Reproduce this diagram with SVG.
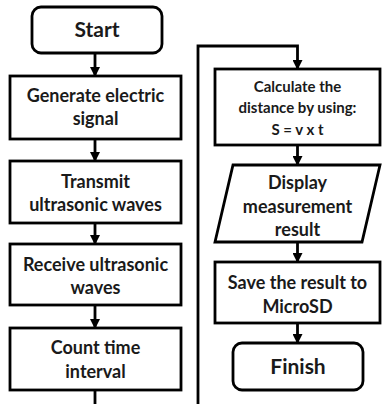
<svg xmlns="http://www.w3.org/2000/svg" width="382" height="404" viewBox="0 0 382 404">
<style>
.b{fill:#fff;stroke:#000;stroke-width:2.8}
.c{fill:none;stroke:#000;stroke-width:2.8}
text{font-family:Lato,"Open Sans","Liberation Sans",sans-serif;font-weight:700;fill:#1a1a1a;text-anchor:middle}
.m{font-size:18px}
.s{font-size:15px}
.l{font-size:21px}
</style>
<defs>
<marker id="a" markerUnits="userSpaceOnUse" markerWidth="10" markerHeight="10" refX="9" refY="5" orient="auto" viewBox="0 0 10 10">
<path d="M0,0 L10,5 L0,10 Z" fill="#000"/>
</marker>
</defs>
<g id="connectors">
<path class="c" d="M95 53 V76" marker-end="url(#a)"/>
<path class="c" d="M95 139 V161" marker-end="url(#a)"/>
<path class="c" d="M95 223 V244" marker-end="url(#a)"/>
<path class="c" d="M95 305 V328" marker-end="url(#a)"/>
<path class="c" d="M95 390 V404"/>
<path class="c" d="M198 404 V46 H297.5 V69" marker-end="url(#a)"/>
<path class="c" d="M297.5 145 V165" marker-end="url(#a)"/>
<path class="c" d="M297.5 242 V262" marker-end="url(#a)"/>
<path class="c" d="M297.5 323 V343" marker-end="url(#a)"/>
</g>
<g id="start"><rect class="b" x="32" y="7" width="130" height="46" rx="9"/><text class="l" x="97" y="37">Start</text></g>
<g id="generate"><rect class="b" x="10" y="76" width="171" height="63"/><text class="m" x="95.5" y="102">Generate electric</text><text class="m" x="95.5" y="125">signal</text></g>
<g id="transmit"><rect class="b" x="10" y="161" width="171" height="62"/><text class="m" x="95.5" y="188">Transmit</text><text class="m" x="95.5" y="211">ultrasonic waves</text></g>
<g id="receive"><rect class="b" x="10" y="244" width="171" height="61"/><text class="m" x="95.5" y="271">Receive ultrasonic</text><text class="m" x="95.5" y="294">waves</text></g>
<g id="count"><rect class="b" x="10" y="328" width="171" height="62"/><text class="m" x="95.5" y="354">Count time</text><text class="m" x="95.5" y="378">interval</text></g>
<g id="calculate"><rect class="b" x="215" y="69" width="165" height="76"/><text class="s" x="297.5" y="92">Calculate the</text><text class="s" x="297.5" y="113">distance by using:</text><text class="s" x="297.5" y="135">S = v x t</text></g>
<g id="display"><polygon class="b" points="233,165 380,165 362,242 215,242"/><text class="m" x="297.5" y="189">Display</text><text class="m" x="297.5" y="213">measurement</text><text class="m" x="297.5" y="236">result</text></g>
<g id="save"><rect class="b" x="215" y="262" width="165" height="61"/><text class="m" x="297.5" y="289">Save the result to</text><text class="m" x="297.5" y="313">MicroSD</text></g>
<g id="finish"><rect class="b" x="233" y="343" width="130" height="47" rx="9"/><text class="l" x="298" y="374">Finish</text></g>
</svg>
